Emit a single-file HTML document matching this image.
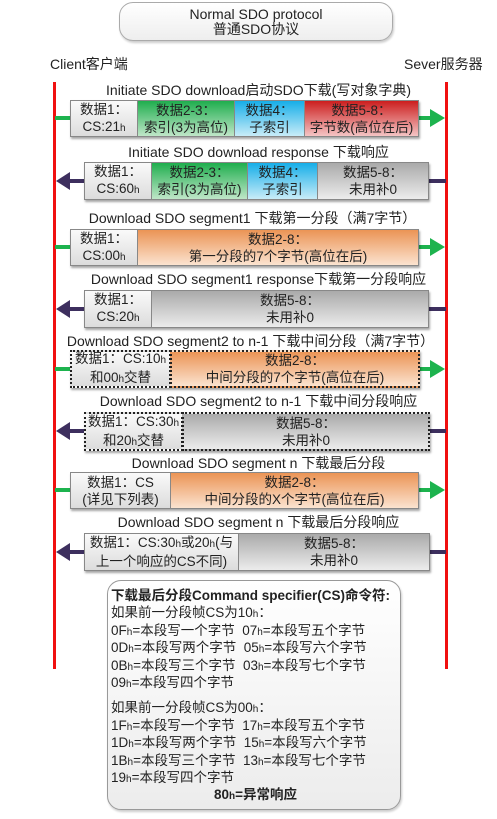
<!DOCTYPE html>
<html><head><meta charset="utf-8">
<style>
*{margin:0;padding:0;box-sizing:border-box}
body{width:497px;height:819px;background:#fff;position:relative;overflow:hidden;font-family:"Liberation Sans","Noto Sans CJK SC",sans-serif;color:#222}
.abs{position:absolute}
.lbl{position:absolute;left:0;width:497px;text-align:center;font-size:14px;white-space:nowrap;line-height:15px}
.box{position:absolute;display:flex;box-shadow:1px 2px 2px rgba(0,0,0,.35)}
.c{border:1px solid #888;margin-left:-1px;display:flex;flex-direction:column;justify-content:center;align-items:center;font-size:13.5px;line-height:17px;text-align:center;white-space:nowrap}
.c:first-child{margin-left:0}
.dot .c{border:2px dotted #222}
.w{background:linear-gradient(#fafafa,#dcdcdc)}
.g{background:linear-gradient(#1fae4e,#bfe6c8)}
.b{background:linear-gradient(#16aee8,#c8ecf8)}
.r{background:linear-gradient(#cc1e1e,#f4c4c4)}
.o{background:linear-gradient(#eb9455,#fbe3d0)}
.gr{background:linear-gradient(#aaaaaa,#ececec)}
small{font-size:10px}
.red{position:absolute;width:3px;background:#f01010;top:82px;height:587px}
.cs{font-size:13.5px}
.cs div{height:17.4px;line-height:17.4px;white-space:nowrap}
</style></head><body>
<div class="abs" style="left:119px;top:2px;width:274px;height:39px;border:1px solid #aaa;border-radius:14px;background:linear-gradient(#fff,#eee);box-shadow:1px 2px 2px rgba(0,0,0,.2);text-align:center;font-size:14px;line-height:15px;padding-top:4px">Normal SDO protocol<br>普通SDO协议</div>
<div class="abs" style="left:50px;top:54px;font-size:14px">Client客户端</div>
<div class="abs" style="left:404px;top:54px;font-size:14px">Sever服务器</div>
<div class="red" style="left:53px"></div>
<div class="red" style="left:445px"></div>

<svg class="abs" style="left:0;top:0" width="497" height="819">
<g stroke="#1db34e" stroke-width="4">
<line x1="55" y1="118" x2="70" y2="118"/><line x1="55" y1="247" x2="70" y2="247"/><line x1="55" y1="369" x2="70" y2="369"/><line x1="55" y1="490" x2="70" y2="490"/>
<line x1="419" y1="118" x2="432" y2="118"/><line x1="419" y1="247" x2="432" y2="247"/><line x1="419" y1="369" x2="432" y2="369"/><line x1="419" y1="490" x2="432" y2="490"/>
</g>
<g fill="#1db34e">
<path d="M430,109 L445,118 L430,127Z"/><path d="M430,238 L445,247 L430,256Z"/><path d="M430,360 L445,369 L430,378Z"/><path d="M430,481 L445,490 L430,499Z"/>
</g>
<g stroke="#3d2f5e" stroke-width="4">
<line x1="66" y1="181" x2="84" y2="181"/><line x1="66" y1="309" x2="84" y2="309"/><line x1="66" y1="431" x2="84" y2="431"/><line x1="66" y1="552" x2="84" y2="552"/>
<line x1="429" y1="181" x2="446" y2="181"/><line x1="429" y1="309" x2="446" y2="309"/><line x1="429" y1="431" x2="446" y2="431"/><line x1="429" y1="552" x2="446" y2="552"/>
</g>
<g fill="#3d2f5e">
<path d="M70,172 L56,181 L70,190Z"/><path d="M70,300 L56,309 L70,318Z"/><path d="M70,422 L56,431 L70,440Z"/><path d="M70,543 L56,552 L70,561Z"/>
</g>
</svg>

<div class="lbl" style="top:83px;left:10px">Initiate SDO download启动SDO下载(写对象字典)</div>
<div class="box" style="left:70px;top:100px;height:37px">
<div class="c w" style="width:68px"><div>数据1：</div><div>CS:21<small>h</small></div></div>
<div class="c g" style="width:98px"><div>数据2-3：</div><div>索引(3为高位)</div></div>
<div class="c b" style="width:71px"><div>数据4：</div><div>子索引</div></div>
<div class="c r" style="width:115px"><div>数据5-8：</div><div>字节数(高位在后)</div></div>
</div>

<div class="lbl" style="top:145px;left:10px">Initiate SDO download response 下载响应</div>
<div class="box" style="left:84px;top:162px;height:38px">
<div class="c w" style="width:68px"><div>数据1：</div><div>CS:60<small>h</small></div></div>
<div class="c g" style="width:97px"><div>数据2-3：</div><div>索引(3为高位)</div></div>
<div class="c b" style="width:71px"><div>数据4：</div><div>子索引</div></div>
<div class="c gr" style="width:112px"><div>数据5-8：</div><div>未用补0</div></div>
</div>

<div class="lbl" style="top:211px;left:4px">Download SDO segment1 下载第一分段（满7字节）</div>
<div class="box" style="left:70px;top:229px;height:37px">
<div class="c w" style="width:68px"><div>数据1：</div><div>CS:00<small>h</small></div></div>
<div class="c o" style="width:282px"><div>数据2-8：</div><div>第一分段的7个字节(高位在后)</div></div>
</div>

<div class="lbl" style="top:272px;left:10px">Download SDO segment1 response下载第一分段响应</div>
<div class="box" style="left:84px;top:290px;height:38px">
<div class="c w" style="width:68px"><div>数据1：</div><div>CS:20<small>h</small></div></div>
<div class="c gr" style="width:278px"><div>数据5-8：</div><div>未用补0</div></div>
</div>

<div class="lbl" style="top:334px;left:2px">Download SDO segment2 to n-1 下载中间分段（满7字节）</div>
<div class="box dot" style="left:70px;top:350px;height:38px">
<div class="c w" style="width:101px"><div>数据1：CS:10<small>h</small></div><div>和00<small>h</small>交替</div></div>
<div class="c o" style="width:250px"><div>数据2-8：</div><div>中间分段的7个字节(高位在后)</div></div>
</div>

<div class="lbl" style="top:394px;left:10px">Download SDO segment2 to n-1 下载中间分段响应</div>
<div class="box dot" style="left:84px;top:412px;height:39px">
<div class="c w" style="width:99px"><div>数据1：CS:30<small>h</small></div><div>和20<small>h</small>交替</div></div>
<div class="c gr" style="width:248px"><div>数据5-8：</div><div>未用补0</div></div>
</div>

<div class="lbl" style="top:456px;left:10px">Download SDO segment n 下载最后分段</div>
<div class="box" style="left:70px;top:472px;height:37px">
<div class="c w" style="width:101px"><div>数据1：CS</div><div>(详见下列表)</div></div>
<div class="c o" style="width:249px"><div>数据2-8：</div><div>中间分段的X个字节(高位在后)</div></div>
</div>

<div class="lbl" style="top:515px;left:10px">Download SDO segment n 下载最后分段响应</div>
<div class="box" style="left:84px;top:533px;height:38px">
<div class="c w" style="width:155px"><div>数据1：CS:30<small>h</small>或20<small>h</small>(与</div><div>上一个响应的CS不同)</div></div>
<div class="c gr" style="width:192px"><div>数据5-8：</div><div>未用补0</div></div>
</div>

<div class="abs cs" style="left:107px;top:580px;width:294px;height:230px;border:1px solid #999;border-radius:14px;background:linear-gradient(#fff,#ececec);box-shadow:1px 2px 2px rgba(0,0,0,.2);padding:6px 0 0 3px">
<div><b>下载最后分段Command specifier(CS)命令符:</b></div>
<div>如果前一分段帧CS为10<small>h</small>：</div>
<div>0F<small>h</small>=本段写一个字节&nbsp; 07<small>h</small>=本段写五个字节</div>
<div>0D<small>h</small>=本段写两个字节&nbsp; 05<small>h</small>=本段写六个字节</div>
<div>0B<small>h</small>=本段写三个字节&nbsp; 03<small>h</small>=本段写七个字节</div>
<div>09<small>h</small>=本段写四个字节</div>
<div style="height:8px"></div>
<div>如果前一分段帧CS为00<small>h</small>：</div>
<div>1F<small>h</small>=本段写一个字节&nbsp; 17<small>h</small>=本段写五个字节</div>
<div>1D<small>h</small>=本段写两个字节&nbsp; 15<small>h</small>=本段写六个字节</div>
<div>1B<small>h</small>=本段写三个字节&nbsp; 13<small>h</small>=本段写七个字节</div>
<div>19<small>h</small>=本段写四个字节</div>
<div style="text-align:center;font-weight:bold">80<small>h</small>=异常响应</div>
</div>
</body></html>
